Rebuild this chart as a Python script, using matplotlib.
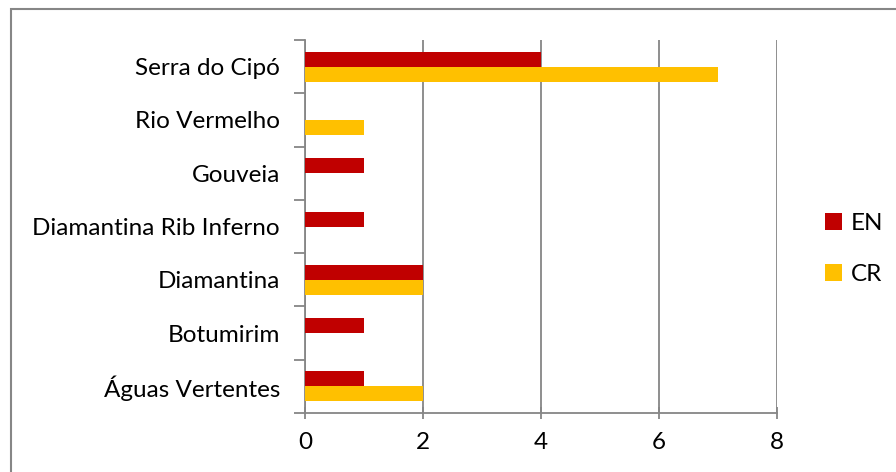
import numpy as np
import matplotlib

matplotlib.use("Agg")
import matplotlib.pyplot as plt
from matplotlib.patches import Rectangle

plt.rcParams["font.family"] = ["Lato", "DejaVu Sans"]

# bottom to top, as drawn
sites = ["Águas Vertentes", "Botumirim", "Diamantina", "Diamantina Rib Inferno",
         "Gouveia", "Rio Vermelho", "Serra do Cipó"]
en = [1, 1, 2, 1, 1, 0, 4]
cr = [2, 0, 2, 0, 0, 1, 7]
xticks = [0, 2, 4, 6, 8]

W, H = 896, 472
FS = 17.5
fig = plt.figure(figsize=(W / 100, H / 100), dpi=100)
ax = fig.add_axes([305 / W, 1 - 413 / H, 472 / W, 373 / H])

y = np.arange(len(sites))
bh = 0.28
ax.barh(y + bh / 2, en, height=bh, color="#C00000", label="EN", zorder=3)
ax.barh(y - bh / 2, cr, height=bh, color="#FFC000", label="CR", zorder=3)

ax.set_xlim(0, 8)
ax.set_ylim(-0.5, len(sites) - 0.5)
ax.set_xticks(xticks)
ax.set_xticklabels([str(v) for v in xticks], fontsize=FS)
ax.set_yticks(y)
ax.set_yticklabels(sites, fontsize=FS)
ax.set_yticks(np.arange(-0.5, len(sites)), minor=True)
ax.tick_params(axis="y", which="major", length=0, pad=18)
ax.tick_params(axis="y", which="minor", length=8, color="#868686", width=1.3)
ax.tick_params(axis="x", length=8, color="#868686", width=1.3, pad=10, direction="inout")
ax.grid(axis="x", color="#868686", lw=1.3, zorder=0)
for s in ["top", "right"]:
    ax.spines[s].set_visible(False)
for s in ["left", "bottom"]:
    ax.spines[s].set_color("#868686")
    ax.spines[s].set_linewidth(1.3)

ax.legend(loc="center left", bbox_to_anchor=(803 / W, 1 - 249 / H),
          bbox_transform=fig.transFigure, frameon=False, fontsize=FS,
          handlelength=0.7, handleheight=0.7, handletextpad=0.35, labelspacing=1.2)

fig.patches.append(Rectangle((11 / W, -0.1), 1.2, 1 - 9 / H + 0.1,
                             transform=fig.transFigure, fill=False,
                             edgecolor="#868686", lw=1.5))

fig.savefig("out.png", dpi=100)
